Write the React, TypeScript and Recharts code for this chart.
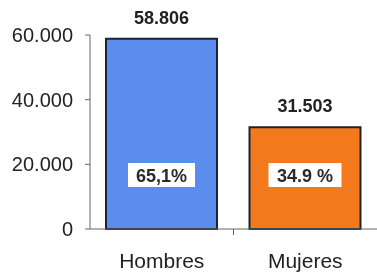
import { Bar, BarChart, Cell, LabelList, XAxis, YAxis } from "recharts";

const categories = ["Hombres", "Mujeres"];
const values = [58806, 31503];
const shares = ["65,1%", "34.9 %"];
const barColors = ["#5b8def", "#f27a1c"];
const yTicks = [0, 20000, 40000, 60000];

const data = categories.map((name, i) => ({
    name,
    value: values[i],
    share: shares[i],
    color: barColors[i],
}));

const fmt = (v: number) => String(v).replace(/\B(?=(\d{3})+(?!\d))/g, ".");

const ShareLabel = (props: any) => {
    const { x, y, width, height, index } = props;
    const cx = x + width / 2;
    const baseY = y + height;
    // box sits at a fixed distance above the axis
    const cy = baseY - 54;
    const text = shares[index];
    const w = index === 0 ? 67 : 73;
    return (
        <g>
            <rect x={cx - w / 2} y={cy - 12} width={w} height={24} fill="#ffffff" />
            <text
                x={cx}
                y={cy + 6.5}
                textAnchor="middle"
                fontSize={18}
                fontWeight="bold"
                fill="#2a2a2a"
            >
                {text}
            </text>
        </g>
    );
};

// category label plus a small tick between the bands
const CategoryTick = (props: any) => {
    const { x, y, payload, index } = props;
    const off = payload && payload.offset ? payload.offset : 0;
    return (
        <g>
            {index > 0 && off > 0 && (
                <line x1={x - off} x2={x - off} y1={y - 23} y2={y - 17} stroke="#666" />
            )}
            <text x={x} y={y} dy={16} textAnchor="middle" fontSize={21} fill="#222">
                {payload.value}
            </text>
        </g>
    );
};

export default function App() {
    return (
        <div style={{ position: "fixed", left: 0, top: 0, fontFamily: "Liberation Sans, Arial, sans-serif" }}>
            <BarChart
                width={377}
                height={274}
                data={data}
                margin={{ top: 35, right: 0, bottom: 0, left: 0 }}
                barSize={111}
            >
                <XAxis
                    dataKey="name"
                    height={45}
                    tickLine={false}
                    tick={<CategoryTick />}
                    tickMargin={17}
                    axisLine={{ stroke: "#666" }}
                />
                <YAxis
                    domain={[0, 60000]}
                    ticks={yTicks}
                    width={90}
                    tickFormatter={fmt}
                    tick={{ fill: "#222", fontSize: 20 }}
                    tickSize={5}
                    tickMargin={12}
                    stroke="#666"
                />
                <Bar dataKey="value" isAnimationActive={false} stroke="#1c2230" strokeWidth={2}>
                    {data.map((d, i) => (
                        <Cell key={`c-${i}`} fill={d.color} />
                    ))}
                    <LabelList
                        dataKey="value"
                        position="top"
                        offset={15}
                        formatter={(v: any) => fmt(Number(v))}
                        style={{ fill: "#222", fontSize: 18, fontWeight: "bold" }}
                    />
                    <LabelList dataKey="share" content={ShareLabel} />
                </Bar>
            </BarChart>
        </div>
    );
}
